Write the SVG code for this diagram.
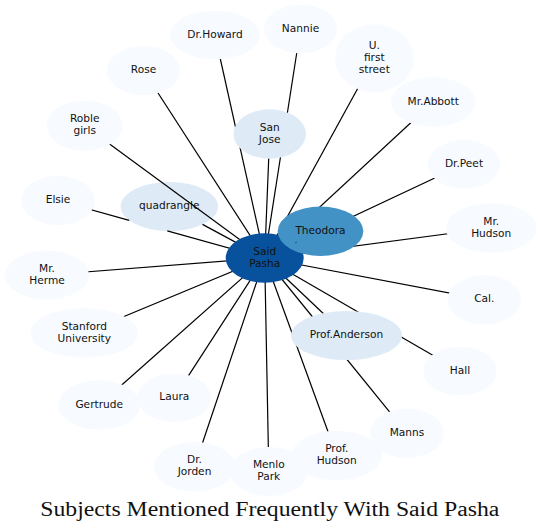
<svg xmlns="http://www.w3.org/2000/svg" width="542" height="532" viewBox="0 0 542 532">
<style>
.e{stroke:#000;stroke-width:1.2;fill:none}
.n0{fill:#f7fbff}
.n1{fill:#deebf7}
.n2{fill:#4292c6}
.n3{fill:#08519c}
.l{font-family:"DejaVu Sans",sans-serif;font-size:10.6px;text-anchor:middle;fill:#111}
.t{font-family:"Liberation Serif",serif;font-size:20px;fill:#111}
</style>
<rect width="542" height="532" fill="#fff"/>
<g id="n-quadrangle"><ellipse class="n1" cx="169.3" cy="206.5" rx="48.7" ry="24.5"/><text class="l" x="169.3" y="209.1">quadrangle</text></g>
<g id="connectors">
<line class="e" x1="215" y1="35" x2="264.7" y2="258"/>
<line class="e" x1="143.5" y1="70.5" x2="264.7" y2="258"/>
<line class="e" x1="84.7" y1="125.7" x2="264.7" y2="258"/>
<path class="e" d="M58,200.5 L129.2,220.3 M167.3,230.9 L264.7,258"/>
<path class="e" d="M202.5,224.4 L264.7,258"/>
<line class="e" x1="269.7" y1="134" x2="264.7" y2="258"/>
<line class="e" x1="300.5" y1="29" x2="264.7" y2="258"/>
<line class="e" x1="374.3" y1="58.3" x2="264.7" y2="258"/>
<line class="e" x1="433.2" y1="102" x2="264.7" y2="258"/>
<line class="e" x1="464" y1="164.3" x2="264.7" y2="258"/>
<line class="e" x1="491.2" y1="228" x2="264.7" y2="258"/>
<line class="e" x1="320.5" y1="231.3" x2="264.7" y2="258"/>
<line class="e" x1="484.3" y1="299.7" x2="264.7" y2="258"/>
<line class="e" x1="346.5" y1="335.5" x2="264.7" y2="258"/>
<line class="e" x1="460" y1="371" x2="264.7" y2="258"/>
<line class="e" x1="407" y1="433.3" x2="264.7" y2="258"/>
<line class="e" x1="336.7" y1="455.5" x2="264.7" y2="258"/>
<line class="e" x1="268.8" y1="471.5" x2="264.7" y2="258"/>
<line class="e" x1="194.5" y1="466.7" x2="264.7" y2="258"/>
<line class="e" x1="174.3" y1="397.7" x2="264.7" y2="258"/>
<line class="e" x1="99.2" y1="405" x2="264.7" y2="258"/>
<line class="e" x1="84.3" y1="333" x2="264.7" y2="258"/>
<line class="e" x1="47" y1="275" x2="264.7" y2="258"/>
</g>
<g id="n-drhoward"><ellipse class="n0" cx="215" cy="35" rx="45" ry="24.3"/><text class="l" x="215" y="37.6">Dr.Howard</text></g>
<g id="n-nannie"><ellipse class="n0" cx="300.5" cy="29" rx="36.5" ry="24.3"/><text class="l" x="300.5" y="31.6">Nannie</text></g>
<g id="n-ufirststreet"><ellipse class="n0" cx="374.3" cy="58.3" rx="39.3" ry="34"/><text class="l" x="374.3" y="48.9">U.</text><text class="l" x="374.3" y="60.9">first</text><text class="l" x="374.3" y="72.9">street</text></g>
<g id="n-rose"><ellipse class="n0" cx="143.5" cy="70.5" rx="36.5" ry="24.5"/><text class="l" x="143.5" y="73.1">Rose</text></g>
<g id="n-mrabbott"><ellipse class="n0" cx="433.2" cy="102" rx="42.2" ry="24.7"/><text class="l" x="433.2" y="104.6">Mr.Abbott</text></g>
<g id="n-roblegirls"><ellipse class="n0" cx="84.7" cy="125.7" rx="38" ry="25"/><text class="l" x="84.7" y="122.3">Roble</text><text class="l" x="84.7" y="134.3">girls</text></g>
<g id="n-sanjose"><ellipse class="n1" cx="269.7" cy="134" rx="36.3" ry="24.7"/><text class="l" x="269.7" y="130.6">San</text><text class="l" x="269.7" y="142.6">Jose</text></g>
<g id="n-drpeet"><ellipse class="n0" cx="464" cy="164.3" rx="36.3" ry="24.3"/><text class="l" x="464" y="166.9">Dr.Peet</text></g>
<g id="n-elsie"><ellipse class="n0" cx="58" cy="200.5" rx="36.7" ry="24.7"/><text class="l" x="58" y="203.1">Elsie</text></g>
<g id="n-mrhudson"><ellipse class="n0" cx="491.2" cy="228" rx="45.5" ry="24.7"/><text class="l" x="491.2" y="224.6">Mr.</text><text class="l" x="491.2" y="236.6">Hudson</text></g>
<g id="n-mrherme"><ellipse class="n0" cx="47" cy="275" rx="42" ry="24.5"/><text class="l" x="47" y="271.6">Mr.</text><text class="l" x="47" y="283.6">Herme</text></g>
<g id="n-cal"><ellipse class="n0" cx="484.3" cy="299.7" rx="36.7" ry="24.7"/><text class="l" x="484.3" y="302.3">Cal.</text></g>
<g id="n-stanford"><ellipse class="n0" cx="84.3" cy="333" rx="53.7" ry="24.7"/><text class="l" x="84.3" y="329.6">Stanford</text><text class="l" x="84.3" y="341.6">University</text></g>
<g id="n-profanderson"><ellipse class="n1" cx="346.5" cy="335.5" rx="55.5" ry="24.5"/><text class="l" x="346.5" y="338.1">Prof.Anderson</text></g>
<g id="n-hall"><ellipse class="n0" cx="460" cy="371" rx="36.7" ry="24.3"/><text class="l" x="460" y="373.6">Hall</text></g>
<g id="n-gertrude"><ellipse class="n0" cx="99.2" cy="405" rx="40.8" ry="24.7"/><text class="l" x="99.2" y="407.6">Gertrude</text></g>
<g id="n-laura"><ellipse class="n0" cx="174.3" cy="397.7" rx="36.7" ry="24.3"/><text class="l" x="174.3" y="400.3">Laura</text></g>
<g id="n-manns"><ellipse class="n0" cx="407" cy="433.3" rx="36.7" ry="24.7"/><text class="l" x="407" y="435.9">Manns</text></g>
<g id="n-drjorden"><ellipse class="n0" cx="194.5" cy="466.7" rx="40.5" ry="24.7"/><text class="l" x="194.5" y="463.3">Dr.</text><text class="l" x="194.5" y="475.3">Jorden</text></g>
<g id="n-menlopark"><ellipse class="n0" cx="268.8" cy="471.5" rx="38.8" ry="24.5"/><text class="l" x="268.8" y="468.1">Menlo</text><text class="l" x="268.8" y="480.1">Park</text></g>
<g id="n-profhudson"><ellipse class="n0" cx="336.7" cy="455.5" rx="45" ry="24.8"/><text class="l" x="336.7" y="452.1">Prof.</text><text class="l" x="336.7" y="464.1">Hudson</text></g>
<g id="n-saidpasha"><ellipse class="n3" cx="264.7" cy="258" rx="39" ry="24.7"/><text class="l" x="264.7" y="254.6">Said</text><text class="l" x="264.7" y="266.6">Pasha</text></g>
<g id="n-theodora"><ellipse class="n2" cx="320.5" cy="231.3" rx="42.8" ry="24.7"/><text class="l" x="320.5" y="233.9">Theodora</text><circle cx="296" cy="242.4" r="0.6" fill="#333"/></g>
<text class="t" x="40.3" y="516" textLength="459" lengthAdjust="spacingAndGlyphs">Subjects Mentioned Frequently With Said Pasha</text>
</svg>
